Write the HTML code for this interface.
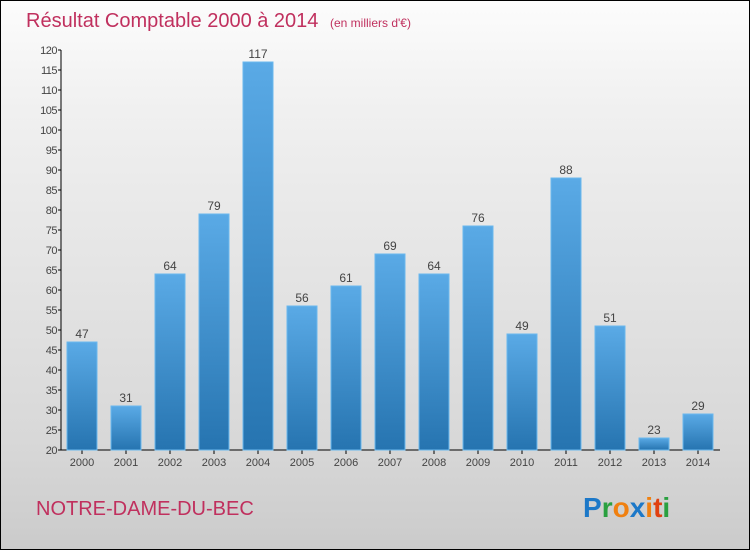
<!DOCTYPE html>
<html><head><meta charset="utf-8"><style>
body{margin:0}
#wrap{position:relative;width:748px;height:548px;border:1px solid #000;background:linear-gradient(#fcfcfc,#f0f0f0 20%,#d8d8d8 80%,#cbcbcb);font-family:"Liberation Sans",sans-serif;overflow:hidden}
</style></head><body>
<div id="wrap">
<svg width="748" height="548" xmlns="http://www.w3.org/2000/svg" id="chart">
<defs><linearGradient id="bg" x1="0" y1="0" x2="0" y2="1"><stop offset="0" stop-color="#5aaae6"/><stop offset="1" stop-color="#2674b0"/></linearGradient></defs>
<text x="25" y="26" font-size="20" fill="#c0305e">Résultat Comptable 2000 à 2014 <tspan font-size="12" dx="6">(en milliers d'€)</tspan></text>
<text x="35" y="514" font-size="20" fill="#c0305e">NOTRE-DAME-DU-BEC</text>
<g font-size="28" font-weight="bold" font-family="'Liberation Sans',sans-serif"><text x="582" y="516"><tspan fill="#1c78c8">P</tspan><tspan fill="#2aa040">r</tspan><tspan fill="#f08010">o</tspan><tspan fill="#1c78c8">x</tspan><tspan fill="#f08010">i</tspan><tspan fill="#e04010">t</tspan><tspan fill="#2aa040">i</tspan></text></g>
<g id="axes"></g><g id="bars"></g>
</svg></div>
<script>
const years=["2000","2001","2002","2003","2004","2005","2006","2007","2008","2009","2010","2011","2012","2013","2014"];
const values=[47,31,64,79,117,56,61,69,64,76,49,88,51,23,29];
const yTicks=[20,25,30,35,40,45,50,55,60,65,70,75,80,85,90,95,100,105,110,115,120];
const NS="http://www.w3.org/2000/svg";
const y=v=>449-(v-20)*4;
const x=i=>81+i*44;
function mk(t,a,p){const e=document.createElementNS(NS,t);for(const k in a)e.setAttribute(k,a[k]);p.appendChild(e);return e;}
const ax=document.getElementById('axes'),bs=document.getElementById('bars');
const yl=mk('line',{x1:60,y1:49,x2:60,y2:449,stroke:'#000'},ax);


const xl=mk('line',{x1:60,y1:449,x2:719,y2:449,stroke:'#000'},ax);


yTicks.forEach(v=>{
 mk('line',{x1:57,x2:60,y1:y(v),y2:y(v),stroke:'#000'},ax);
 const t=mk('text',{x:56,y:y(v)+4,'font-size':11,'text-anchor':'end',fill:'#444','letter-spacing':'-0.5'},ax);
 t.textContent=v;
 
 
});
years.forEach((yr,i)=>{
 const cx=x(i),v=values[i];
 mk('line',{x1:cx,x2:cx,y1:449,y2:453,stroke:'#000'},ax);
 const t=mk('text',{x:cx,y:465,'font-size':11,'text-anchor':'middle',fill:'#444'},ax);
 t.textContent=yr;
 
 
 const r=mk('rect',{x:cx-15,y:y(v),width:30,height:449-y(v),fill:'url(#bg)',stroke:'#6ab8ee','stroke-width':1},bs);
 
 
 const l=mk('text',{x:cx,y:y(v)-4,'font-size':12,'text-anchor':'middle',fill:'#444'},bs);
 l.textContent=v;
 
 
});
</script>
</body></html>
